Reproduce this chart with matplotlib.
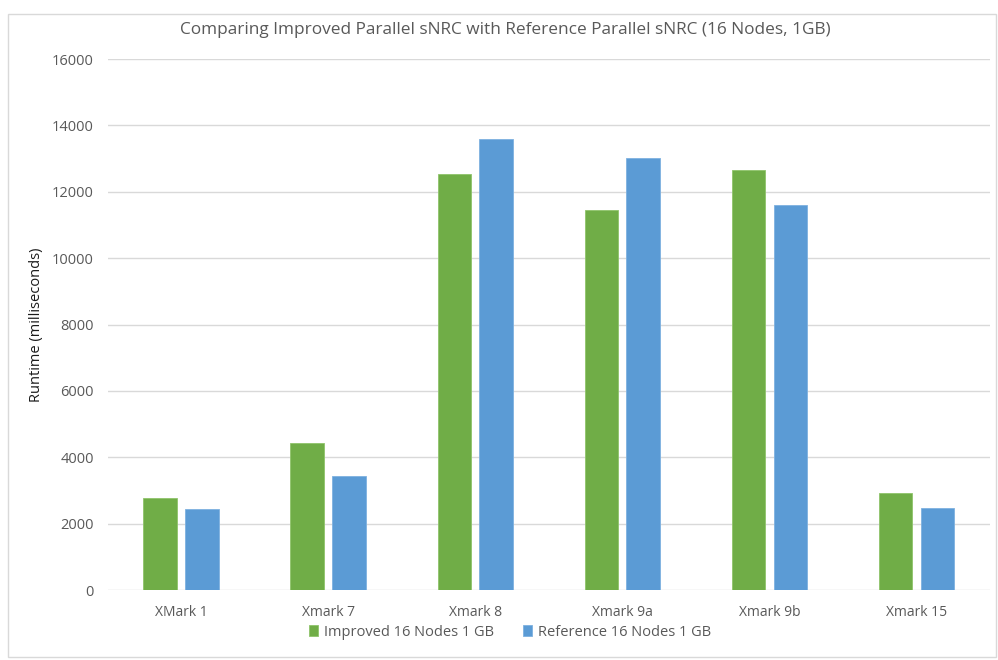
import matplotlib
matplotlib.use("Agg")
import matplotlib.pyplot as plt
from matplotlib.patches import Rectangle
import numpy as np

# données
categories = ["XMark 1", "Xmark 7", "Xmark 8", "Xmark 9a", "Xmark 9b", "Xmark 15"]
improved = [2780, 4430, 12540, 11450, 12660, 2920]
reference = [2440, 3440, 13590, 13010, 11600, 2470]
labels = ["Improved 16 Nodes 1 GB", "Reference 16 Nodes 1 GB"]
yticks = [0, 2000, 4000, 6000, 8000, 10000, 12000, 14000, 16000]

plt.rcParams['font.family'] = ['Open Sans', 'DejaVu Sans']
txt = '#595959'

fig = plt.figure(figsize=(9.98, 6.6), dpi=100)
ax = fig.add_axes([0.108, 0.106, 0.884, 0.8046])

# cadre gris clair autour de la figure
fig.patches.append(Rectangle((0.008, 0.004), 0.99, 0.975, transform=fig.transFigure,
                             fill=False, edgecolor='#D9D9D9', linewidth=1))

x = np.arange(len(categories))
w = 0.23
gap = 0.055
ax.bar(x - (w + gap) / 2, improved, w, color='#70AD47', edgecolor='#8FC46A', linewidth=0.6,
       label=labels[0], zorder=3)
ax.bar(x + (w + gap) / 2, reference, w, color='#5B9BD5', edgecolor='#7EB1E0', linewidth=0.6,
       label=labels[1], zorder=3)

ax.set_xlim(-0.5, len(categories) - 0.5)
ax.set_ylim(0, 16000)
ax.set_yticks(yticks)
ax.set_yticklabels([str(v) for v in yticks], fontsize=10.5, color=txt)
ax.set_xticks(x)
ax.set_xticklabels(categories, fontsize=10, color=txt)
ax.tick_params(length=0, pad=10)
ax.tick_params(axis='x', pad=11)
ax.grid(axis='y', color='#D9D9D9', linewidth=1, zorder=0)
for s in ax.spines.values():
    s.set_visible(False)

ax.set_ylabel("Runtime (milliseconds)", fontsize=10.5, color='#1a1a1a', labelpad=6)
fig.text(0.506, 0.955, "Comparing Improved Parallel sNRC with Reference Parallel sNRC (16 Nodes, 1GB)",
         ha='center', va='center', fontsize=12.4, color=txt)

fig.legend(loc='center', bbox_to_anchor=(0.511, 0.042), ncol=2, frameon=False,
           fontsize=10.5, labelcolor=txt, handlelength=0.6, handleheight=0.8,
           handletextpad=0.4, columnspacing=2.0)

fig.savefig("out.png", dpi=100)
